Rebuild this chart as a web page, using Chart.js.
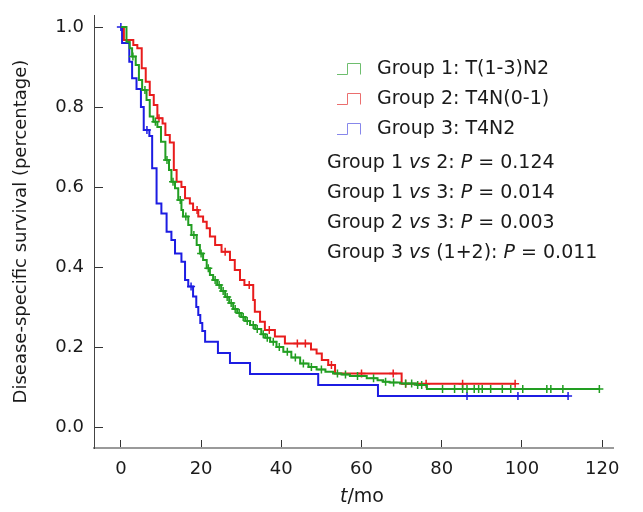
<!DOCTYPE html>
<html>
<head>
<meta charset="utf-8">
<script src="https://cdn.jsdelivr.net/npm/chart.js@4"></script>
<style>
  body { margin: 0; background: #fff; }
</style>
</head>
<body>
<canvas id="km" width="643" height="512"></canvas>
<script>
// survival curves (t in months, fraction surviving)
const g1Time = [0, 1.4, 2.2, 2.8, 3.7, 4.5, 5.3, 6.4, 7.2, 8.1, 9.1, 10.0, 11.1, 12.0, 12.6, 13.5, 14.3, 15.1, 15.5, 16.8, 17.6, 18.9, 19.7, 20.5, 21.4, 22.2, 23.0, 24, 25, 26, 27, 28, 29, 30, 31, 32.2, 33.5, 35, 36, 37.2, 38.8, 40.5, 42.5, 44.7, 46.8, 48.8, 51, 52.9, 55, 57.1, 61.3, 64, 65.4, 67, 69.6, 73.8, 76.3, 119.3];
const g1Surv = [1, 0.963, 0.947, 0.926, 0.905, 0.8675, 0.8425, 0.8175, 0.776, 0.763, 0.75, 0.713, 0.6675, 0.6425, 0.613, 0.597, 0.5675, 0.5425, 0.526, 0.505, 0.48, 0.455, 0.434, 0.4175, 0.397, 0.38, 0.3675, 0.355, 0.34, 0.325, 0.31, 0.295, 0.285, 0.275, 0.265, 0.255, 0.245, 0.232, 0.223, 0.213, 0.2, 0.188, 0.174, 0.159, 0.15, 0.144, 0.138, 0.134, 0.131, 0.1275, 0.122, 0.117, 0.113, 0.111, 0.109, 0.105, 0.095, 0.095];
const g1Cens = [3, 6, 8.6, 11.5, 13, 14.8, 16.2, 18.2, 20, 21.8, 23.5, 24.5, 25.5, 26.5, 27.5, 28.5, 29.5, 30.5, 31.5, 33, 34, 35.5, 36.5, 38, 39.5, 41.5, 43.5, 45.5, 47.5, 50, 54, 56, 59, 63, 66, 68, 71, 72.5, 74, 75, 80.2, 83.2, 85.2, 86.3, 88.1, 89.2, 90.1, 92.2, 95.1, 97.2, 100.2, 106.2, 107.2, 110.2, 119.3];

const g2Time = [0, 0.75, 3.1, 4.1, 5.2, 6.2, 7.2, 8.2, 9.1, 10.4, 11.1, 12.2, 13.2, 13.9, 15.1, 16, 17.2, 18, 19.3, 20.5, 21.4, 22.2, 23.5, 25.1, 27.2, 28.4, 29.7, 30.8, 33, 33.4, 34.7, 35.9, 38.4, 40.9, 47.4, 48.8, 50.1, 51.7, 53.4, 70, 98.3];
const g2Surv = [1, 0.9675, 0.955, 0.947, 0.897, 0.863, 0.83, 0.805, 0.772, 0.759, 0.73, 0.711, 0.6425, 0.613, 0.6, 0.572, 0.559, 0.5425, 0.526, 0.513, 0.497, 0.476, 0.455, 0.438, 0.4175, 0.3925, 0.3675, 0.355, 0.3175, 0.288, 0.263, 0.2425, 0.226, 0.209, 0.194, 0.184, 0.1675, 0.155, 0.134, 0.108, 0.108];
const g2Cens = [9.5, 19, 26, 32, 37, 44, 46, 52.5, 60, 67.9, 71, 76.1, 85.2, 98.3];

const g3Time = [0, 0.3, 2.1, 2.8, 3.9, 5.0, 5.7, 7.1, 7.8, 8.9, 10.1, 11.4, 12.6, 13.5, 15.1, 16, 16.8, 18.0, 18.8, 19.3, 19.8, 20.3, 21.0, 24.2, 27.2, 32.2, 49.2, 64.1, 111.5];
const g3Surv = [1, 0.96, 0.913, 0.872, 0.845, 0.80, 0.7425, 0.7275, 0.647, 0.559, 0.534, 0.488, 0.4675, 0.434, 0.413, 0.3675, 0.351, 0.326, 0.30, 0.28, 0.26, 0.24, 0.213, 0.185, 0.16, 0.1325, 0.105, 0.0775, 0.0775];
const g3Cens = [0, 6.5, 17.5, 86.3, 99, 111.5];

const xTicks = [0, 20, 40, 60, 80, 100, 120];
const yTicks = [0, 0.2, 0.4, 0.6, 0.8, 1.0];

const groupNames = ['Group 1: T(1-3)N2', 'Group 2: T4N(0-1)', 'Group 3: T4N2'];
// [text, italic]
const pLines = [
  [['Group 1 ', false], ['vs', true], [' 2: ', false], ['P', true], [' = 0.124', false]],
  [['Group 1 ', false], ['vs', true], [' 3: ', false], ['P', true], [' = 0.014', false]],
  [['Group 2 ', false], ['vs', true], [' 3: ', false], ['P', true], [' = 0.003', false]],
  [['Group 3 ', false], ['vs', true], [' (1+2): ', false], ['P', true], [' = 0.011', false]]
];
const yTitle = 'Disease-specific survival (percentage)';
const xTitle = [['t', true], ['/mo', false]];

const lineColors = ['rgb(34,158,34)', 'rgb(232,28,28)', 'rgb(28,28,226)'];
const keyColors = ['rgb(110,190,110)', 'rgb(235,110,110)', 'rgb(135,135,235)'];
const FONT = '"DejaVu Sans", Verdana, sans-serif';

function survAt(times, surv, t) {
  let s = surv[0];
  for (let i = 0; i < times.length; i++) {
    if (times[i] <= t) s = surv[i];
  }
  return s;
}

function curve(times, surv, color, order) {
  return {
    data: times.map((t, i) => ({ x: t, y: surv[i] })),
    borderColor: color,
    borderWidth: 2,
    stepped: true,
    pointRadius: 0,
    fill: false,
    order: order
  };
}

function marks(times, surv, cens, color, order) {
  return {
    data: cens.map(t => ({ x: t, y: survAt(times, surv, t) })),
    showLine: false,
    pointStyle: 'cross',
    pointRadius: 4,
    borderColor: color,
    borderWidth: 1.5,
    order: order
  };
}

function drawRuns(ctx, runs, x, y, size, align) {
  let total = 0;
  runs.forEach(r => {
    ctx.font = (r[1] ? 'italic ' : '') + size + 'px ' + FONT;
    total += ctx.measureText(r[0]).width;
  });
  if (align === 'center') x -= total / 2;
  runs.forEach(r => {
    ctx.font = (r[1] ? 'italic ' : '') + size + 'px ' + FONT;
    ctx.fillText(r[0], x, y);
    x += ctx.measureText(r[0]).width;
  });
}

const textPlugin = {
  id: 'texts',
  afterDraw(chart) {
    const ctx = chart.ctx;
    ctx.save();
    ctx.textBaseline = 'middle';
    ctx.textAlign = 'left';
    ctx.fillStyle = '#1a1a1a';
    groupNames.forEach((name, i) => {
      const y = 69 + i * 30;
      ctx.strokeStyle = keyColors[i];
      ctx.lineWidth = 1;
      ctx.beginPath();
      ctx.moveTo(337, y + 5.5);
      ctx.lineTo(347.5, y + 5.5);
      ctx.lineTo(347.5, y - 5.5);
      ctx.lineTo(360.5, y - 5.5);
      ctx.lineTo(360.5, y + 5.5);
      ctx.stroke();
      ctx.font = '19px ' + FONT;
      ctx.fillText(name, 377, y);
    });
    pLines.forEach((runs, i) => drawRuns(ctx, runs, 327, 163 + i * 30, 19, 'left'));
    drawRuns(ctx, xTitle, 362, 497, 19, 'center');
    ctx.restore();
  }
};

new Chart(document.getElementById('km'), {
  type: 'line',
  data: {
    datasets: [
      curve(g3Time, g3Surv, lineColors[2], 3),
      marks(g3Time, g3Surv, g3Cens, lineColors[2], 3),
      curve(g2Time, g2Surv, lineColors[1], 2),
      marks(g2Time, g2Surv, g2Cens, lineColors[1], 2),
      curve(g1Time, g1Surv, lineColors[0], 1),
      marks(g1Time, g1Surv, g1Cens, lineColors[0], 1)
    ]
  },
  options: {
    responsive: false,
    animation: false,
    events: [],
    layout: { padding: { top: 15, right: 30, left: 0, bottom: 0 } },
    plugins: { legend: { display: false }, tooltip: { enabled: false } },
    scales: {
      x: {
        type: 'linear',
        min: -6.7,
        max: 122.7,
        afterBuildTicks: s => { s.ticks = xTicks.map(v => ({ value: v })); },
        afterFit: s => { s.height = 64; s.paddingLeft = 0; s.paddingRight = 0; },
        border: { color: '#9a9a9a', width: 2 },
        grid: { drawOnChartArea: false, tickLength: -8, color: '#333' },
        ticks: { padding: 19, color: '#1a1a1a', font: { family: FONT, size: 18 }, maxRotation: 0 }
      },
      y: {
        type: 'linear',
        min: -0.0525,
        max: 1.03,
        afterBuildTicks: s => { s.ticks = yTicks.map(v => ({ value: v })); },
        afterFit: s => { s.width = 94; s.paddingTop = 0; s.paddingBottom = 0; },
        border: { color: '#444', width: 1 },
        grid: { drawOnChartArea: false, tickLength: -9, color: '#333' },
        ticks: {
          padding: 19,
          color: '#1a1a1a',
          font: { family: FONT, size: 18 },
          callback: v => v.toFixed(1)
        },
        title: {
          display: true,
          text: yTitle,
          color: '#1a1a1a',
          font: { family: FONT, size: 18 },
          padding: { top: 11, bottom: 0 }
        }
      }
    }
  },
  plugins: [textPlugin]
});
</script>
</body>
</html>
